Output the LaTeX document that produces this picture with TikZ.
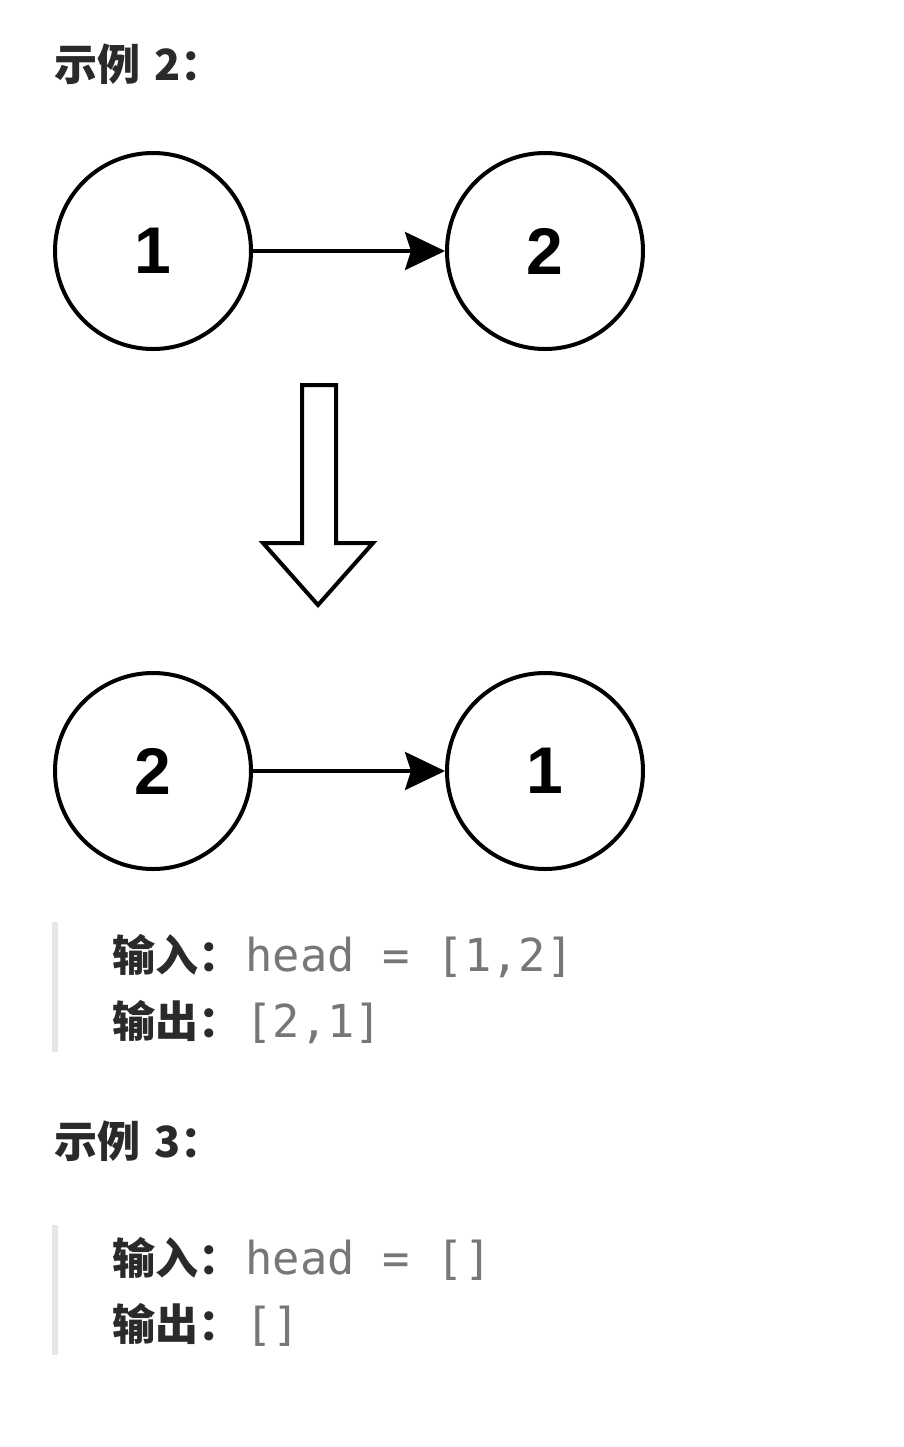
\documentclass[tikz,border=0pt]{standalone}
\usepackage{fontspec}
\setmainfont{Liberation Sans}
\newfontfamily\cjk{Noto Sans CJK SC}
\newfontfamily\codefont{DejaVu Sans Mono}
\usetikzlibrary{arrows.meta,positioning}
\usepackage{xcolor}
\definecolor{ink}{HTML}{2A2A2A}
\definecolor{codegray}{HTML}{777777}
\definecolor{barfill}{HTML}{E6E6E6}
\newcommand\codetxt[1]{\hspace{2pt}{\codefont\mdseries\fontsize{22.7}{26}\selectfont\color{codegray}#1}}
\tikzset{
  listnode/.style={circle, draw=black, line width=2pt, minimum size=98pt, inner sep=0pt, font=\fontsize{33}{33}\selectfont\bfseries},
  link/.style={-{Stealth[length=20pt,width=19pt,inset=3pt]}, line width=2pt},
  bigarrow/.style={draw=black, line width=2pt, fill=white, line join=miter},
  heading/.style={anchor=base west, inner sep=0pt, text=ink, font=\cjk\bfseries\fontsize{21.5}{26}\selectfont},
  ioline/.style={anchor=base west, inner sep=0pt, text=ink, font=\cjk\bfseries\fontsize{21.5}{26}\selectfont}
}
\begin{document}
\begin{tikzpicture}[x=0.5pt,y=-0.5pt]
  \fill[white] (0,0) rectangle (904,1447);
  \useasboundingbox (0,0) rectangle (904,1447);
  % example 2
  \node[heading] (ex2) at (54,80) {示例\hspace{7pt}2：};
  \node[listnode] (a1) at (153,251) {1};
  \node[listnode] (a2) at (545,251) {2};
  \draw[link] (a1) -- (a2);
  \draw[bigarrow] (302,385) -- (336,385) -- (336,543) -- (373,543) -- (318,605)
    -- (263,543) -- (302,543) -- cycle;
  \node[listnode] (b2) at (153,771) {2};
  \node[listnode] (b1) at (545,771) {1};
  \draw[link] (b2) -- (b1);
  \fill[barfill] (52,922) rectangle (58,1052);
  \node[ioline] (in2) at (112,971) {输入：\codetxt{head = [1,2]}};
  \node[ioline] (out2) at (112,1037) {输出：\codetxt{[2,1]}};
  % example 3
  \node[heading] (ex3) at (54,1157) {示例\hspace{7pt}3：};
  \fill[barfill] (52,1225) rectangle (58,1355);
  \node[ioline] (in3) at (112,1274) {输入：\codetxt{head = []}};
  \node[ioline] (out3) at (112,1340) {输出：\codetxt{[]}};
\end{tikzpicture}
\end{document}
